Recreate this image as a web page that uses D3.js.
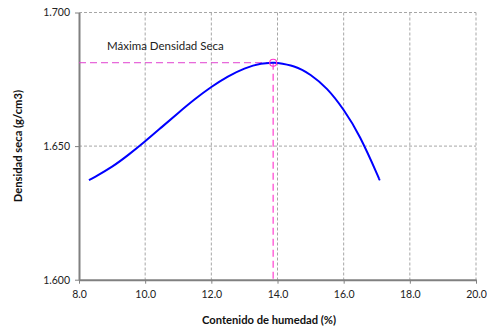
<!DOCTYPE html>
<html><head><meta charset="utf-8">
<script src="https://cdn.jsdelivr.net/npm/d3@7"></script>
<style>body{margin:0;background:#fff}svg{display:block}text{font-family:Lato,"Open Sans",sans-serif}</style>
</head><body><svg id="c" width="487" height="330"></svg>
<script>
const moisture = [8.3,8.5,9.0,9.5,10.0,10.5,11.0,11.5,12.0,12.5,13.0,13.5,13.87,14.0,14.5,15.0,15.5,16.0,16.5,17.0,17.07];
const density  = [1.6373,1.6386,1.6423,1.6468,1.6518,1.6571,1.6624,1.6675,1.6721,1.6760,1.6790,1.6808,1.6812,1.6811,1.6798,1.6766,1.6713,1.6635,1.6531,1.6398,1.6377];
const maxPoint = {x:13.87, y:1.6812};
const xTicks = [8,10,12,14,16,18,20];
const yTicks = [1.600,1.650,1.700];
const label = "Máxima Densidad Seca";

const svg = d3.select("#c");
const x = d3.scaleLinear().domain([8,20]).range([79,476]);
const y = d3.scaleLinear().domain([1.6,1.7]).range([279.7,12.5]);

// grid
svg.append("g").selectAll("line").data(xTicks.slice(1)).join("line")
  .attr("x1",d=>x(d)).attr("x2",d=>x(d)).attr("y1",y(1.7)).attr("y2",y(1.6))
  .attr("stroke","#a6a6a6").attr("stroke-width",1).attr("stroke-dasharray","3,2");
svg.append("g").selectAll("line").data(yTicks.slice(1)).join("line")
  .attr("x1",x(8)).attr("x2",x(20)).attr("y1",d=>y(d)).attr("y2",d=>y(d))
  .attr("stroke","#a6a6a6").attr("stroke-width",1).attr("stroke-dasharray","3,2");

// axes
const xa = svg.append("g").attr("transform",`translate(0,${y(1.6)})`)
  .call(d3.axisBottom(x).tickValues(xTicks).tickFormat(d3.format(".1f")).tickSize(4).tickSizeOuter(0));
const ya = svg.append("g").attr("transform",`translate(${x(8)},0)`)
  .call(d3.axisLeft(y).tickValues(yTicks).tickFormat(d3.format(".3f")).tickSize(4).tickSizeOuter(0));
[xa,ya].forEach(a=>{
  a.select(".domain").attr("stroke","#808080").attr("stroke-width",2);
  a.selectAll(".tick line").attr("stroke","#808080").attr("stroke-width",1);
  a.selectAll("text").attr("font-size",10.5).attr("fill","#222").attr("font-family","Lato,'Open Sans',sans-serif");
});
xa.selectAll("text").attr("dy","1.1em");
ya.selectAll("text").attr("dx","-2");

// reference lines
svg.append("line").attr("x1",x(8)).attr("x2",x(maxPoint.x)).attr("y1",y(maxPoint.y)).attr("y2",y(maxPoint.y))
  .attr("stroke","#e040d0").attr("stroke-width",1).attr("stroke-dasharray","7,4");
svg.append("line").attr("x1",x(maxPoint.x)).attr("x2",x(maxPoint.x)).attr("y1",y(maxPoint.y)).attr("y2",y(1.6))
  .attr("stroke","#ff70dd").attr("stroke-width",1.6).attr("stroke-dasharray","7,4");

// curve
const pts = moisture.map((m,i)=>[m,density[i]]);
svg.append("path").datum(pts)
  .attr("d",d3.line().x(d=>x(d[0])).y(d=>y(d[1])).curve(d3.curveNatural))
  .attr("fill","none").attr("stroke","#0000ff").attr("stroke-width",2);

svg.append("circle").attr("cx",x(maxPoint.x)).attr("cy",y(maxPoint.y)).attr("r",3.5)
  .attr("fill","none").attr("stroke","#ff33cc").attr("stroke-width",1.2);

svg.append("text").attr("x",107).attr("y",50).attr("font-size",11.5).attr("fill","#222").text(label);

svg.append("text").attr("x",269).attr("y",324).attr("text-anchor","middle")
  .attr("font-size",11.2).attr("font-weight","bold").attr("fill","#111").text("Contenido de humedad (%)");
svg.append("text").attr("transform",`translate(22,${(y(1.6)+y(1.7))/2}) rotate(-90)`).attr("text-anchor","middle")
  .attr("font-size",11.2).attr("font-weight","bold").attr("fill","#111").text("Densidad seca (g/cm3)");
</script></body></html>
